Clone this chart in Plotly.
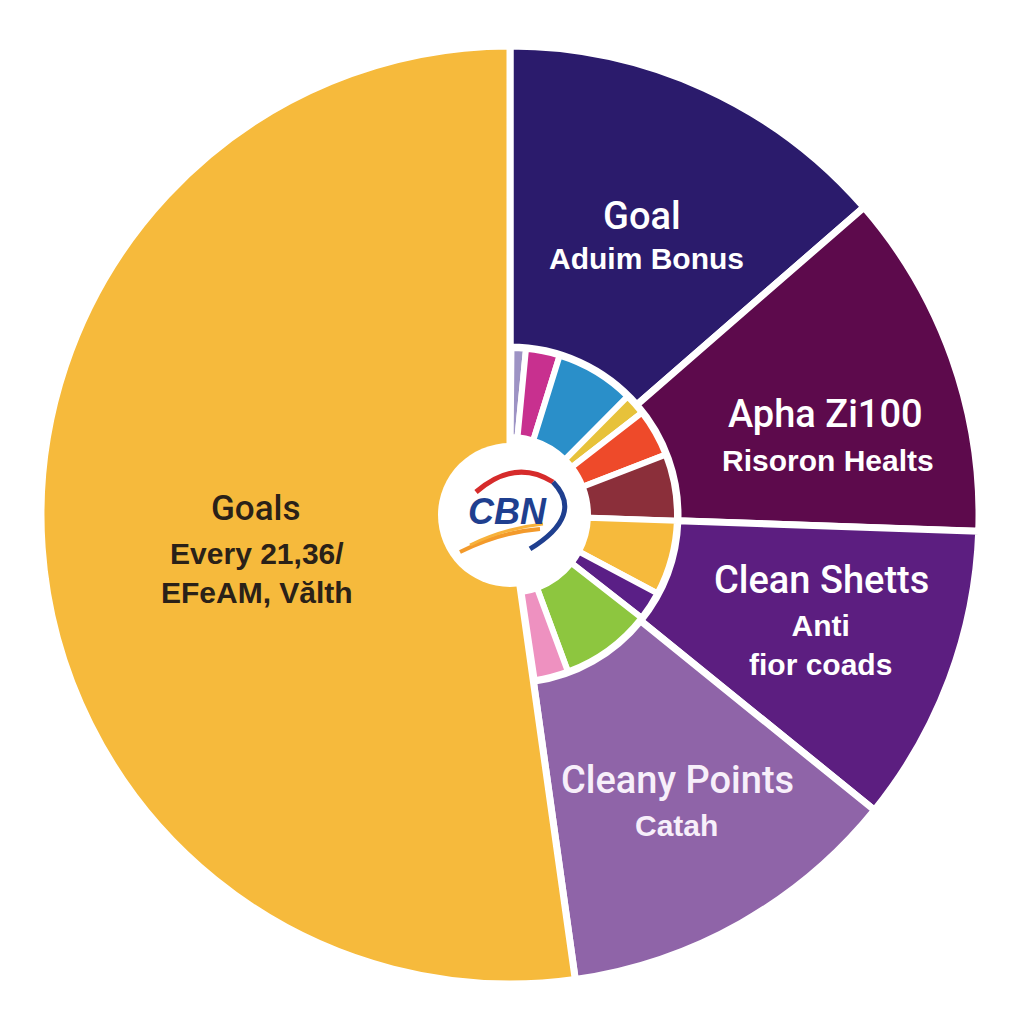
import plotly.graph_objects as go

# ---------------- data ----------------
outer_titles = ["Goal", "Apha Zi100", "Clean Shetts", "Cleany Points", "Goals"]
outer_subtitles = ["Aduim Bonus", "Risoron Healts", "Anti<br>fior coads", "Catah",
                   "Every 21,36/<br>EFeAM, Vălth"]
outer_values = [49, 43, 37, 43, 188]          # angular share (degrees of 360)
outer_colors = ["#2B1B6C", "#5D0A4C", "#5C1E80", "#8F64A8", "#F6BA3C"]

inner_labels = ["Lavender", "Magenta", "Blue", "Yellow", "Orange", "Brown",
                "Gold", "Violet", "Green", "Pink"]
inner_values = [5, 11.8, 27.5, 7.4, 16.6, 23.2, 26, 10, 31.7, 11.8]
inner_colors = ["#9D93C4", "#C8308F", "#2A8FC9", "#E7C23A", "#EE4A2A", "#8B2F3A",
                "#F6BA3C", "#5A1F86", "#8DC63F", "#EE91C0"]
inner_start = 0.5

# ---------------- geometry ----------------
W = H = 1024
CX, CY = 510, 515
R_PX = 470
OUT_BASE, OUT_TOP = 168, 469
IN_BASE, IN_TOP = 78, 167
HUB = 72
GAP = 7


def centers(values, start):
    res, acc = [], start
    for v in values:
        res.append(acc + v / 2)
        acc += v
    return res


def px(x, y):
    return x / W, 1 - y / H


fig = go.Figure()

fig.add_trace(go.Barpolar(
    theta=centers(outer_values, 0), width=outer_values,
    r=[OUT_TOP - OUT_BASE] * 4 + [OUT_TOP],
    base=[OUT_BASE] * 4 + [0],
    marker=dict(color=outer_colors, line=dict(color="white", width=GAP)),
    hoverinfo="skip", showlegend=False,
))

fig.add_trace(go.Barpolar(
    theta=centers(inner_values, inner_start), width=inner_values,
    r=[IN_TOP - IN_BASE] * len(inner_values), base=[IN_BASE] * len(inner_values),
    marker=dict(color=inner_colors, line=dict(color="white", width=GAP - 1)),
    hoverinfo="skip", showlegend=False,
))

# white hub
fig.add_trace(go.Barpolar(
    theta=[90, 270], width=[180, 180], r=[HUB, HUB],
    marker=dict(color="white", line=dict(color="white", width=0)),
    hoverinfo="skip", showlegend=False,
))

fig.update_layout(
    width=W, height=H, margin=dict(l=0, r=0, t=0, b=0),
    paper_bgcolor="white",
    polar=dict(
        domain=dict(x=[(CX - R_PX) / W, (CX + R_PX) / W],
                    y=[(H - CY - R_PX) / H, (H - CY + R_PX) / H]),
        bgcolor="white", bargap=0,
        angularaxis=dict(rotation=90, direction="clockwise", visible=False,
                         showgrid=False),
        radialaxis=dict(range=[0, R_PX], visible=False, showgrid=False),
    ),
)

HEAD = "Roboto, Liberation Sans"
BODY = "Liberation Sans, Arial"

label_pos = [  # (title xy, subtitle xy) in pixels
    ((642, 216), (646, 258)),
    ((825, 414), (828, 460)),
    ((821, 580), (820, 645)),
    ((677, 780), (676, 825)),
    ((256, 508), (257, 573)),
]
text_colors = ["white", "white", "white", "#F7EFFA", "#2A2118"]

annos = []
for t, s, (tp, sp), c in zip(outer_titles, outer_subtitles, label_pos, text_colors):
    x, y = px(*tp)
    annos.append(dict(x=x, y=y, xref="paper", yref="paper", text=t, showarrow=False,
                      xanchor="center", yanchor="middle",
                      font=dict(family=HEAD, size=38 if c != "#2A2118" else 35,
                                color=c, weight=500)))
    x, y = px(*sp)
    annos.append(dict(x=x, y=y, xref="paper", yref="paper", text=s, showarrow=False,
                      xanchor="center", yanchor="middle",
                      font=dict(family=BODY, size=30, color=c, weight="bold")))

# logo text
x, y = px(507, 511)
annos.append(dict(x=x, y=y, xref="paper", yref="paper", text="<b><i>CBN</i></b>",
                  xanchor="center", yanchor="middle",
                  showarrow=False, font=dict(family=BODY, size=36, color="#1F3F8F")))
fig.update_layout(annotations=annos)


def path(*pts):
    s = ""
    for cmd, coords in pts:
        s += cmd
        for (a, b) in coords:
            xx, yy = px(a, b)
            s += f" {xx:.5f},{yy:.5f}"
        s += " "
    return s


shapes = [
    dict(type="path", xref="paper", yref="paper",
         path=path(("M", [(476, 492)]), ("Q", [(515, 458), (553, 482)])),
         line=dict(color="#D62B2B", width=5)),
    dict(type="path", xref="paper", yref="paper",
         path=path(("M", [(553, 482)]), ("Q", [(585, 515), (530, 549)])),
         line=dict(color="#1F3F8F", width=5)),
    dict(type="path", xref="paper", yref="paper",
         path=path(("M", [(460, 552)]), ("Q", [(500, 532), (540, 529)])),
         line=dict(color="#F39A2B", width=4)),
    dict(type="path", xref="paper", yref="paper",
         path=path(("M", [(470, 545)]), ("Q", [(505, 528), (543, 524)])),
         line=dict(color="#F7B23B", width=3)),
]
fig.update_layout(shapes=shapes)

fig.write_html("out.html")
